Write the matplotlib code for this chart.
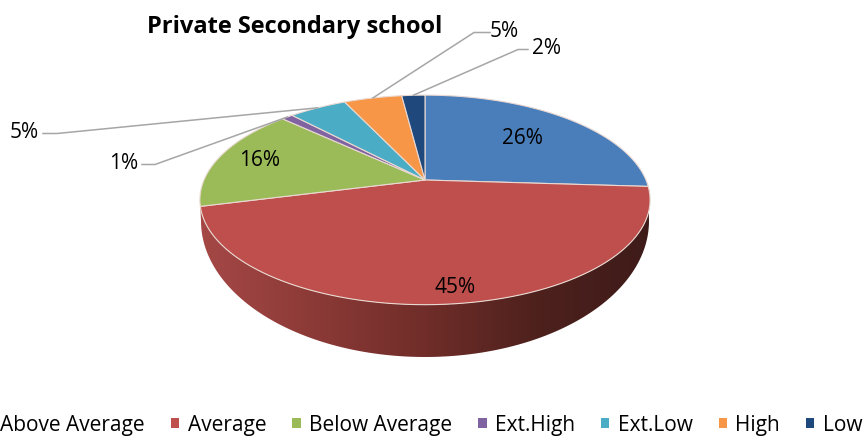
import matplotlib
matplotlib.use('Agg')
import matplotlib.pyplot as plt
import numpy as np
from matplotlib.colors import LinearSegmentedColormap
from matplotlib.patches import Patch

plt.rcParams['font.family'] = ['Open Sans', 'DejaVu Sans']

categorias = ['Above Average', 'Average', 'Below Average', 'Ext.High', 'Ext.Low', 'High', 'Low']
valores = [26, 45, 16, 1, 5, 5, 2]
colores = ['#4A7EBB', '#BE4F4C', '#9BBB59', '#8064A2', '#4BACC6', '#F79646', '#1F497D']
titulo = 'Private Secondary school'

# centre of the pie and perspective of the tilted disc, in pixels
cx, cy = 425, 181
a, b, k = 221, 101, 0.19


def proyectar(ang):
    # ang clockwise from the top, in degrees
    t = np.radians(ang)
    u, v = np.sin(t), np.cos(t)
    d = 1 + k * v
    return cx + a * u / d, cy - b * v / d


fig = plt.figure(figsize=(8.63, 4.39), dpi=100)
ax = fig.add_axes([0, 0, 1, 1])
ax.set_xlim(0, 863)
ax.set_ylim(439, 0)
ax.axis('off')

limites = np.cumsum([0] + valores) * 3.6

# side wall of the red slice, with dark gradient
ang = np.linspace(limites[1], limites[2], 120)
xr, yr = proyectar(ang)
t = np.linspace(0, np.pi, 120)
xb, yb = cx + 224 * np.cos(t), 222 + 136 * np.sin(t)
cmap = LinearSegmentedColormap.from_list('pared', ['#A54846', '#8C3A37', '#702D29', '#4E211D', '#3E1B19'])
grad = ax.imshow(np.linspace(0, 1, 256).reshape(1, -1), cmap=cmap, aspect='auto',
                 extent=(xr.min(), xr.max(), yb.max(), yr.min()), zorder=1)
pared = ax.fill(np.r_[xr, xb[::-1]], np.r_[yr, yb[::-1]], color='none', zorder=1)[0]
grad.set_clip_path(pared)
ax.set_xlim(0, 863)
ax.set_ylim(439, 0)

# top face
for i in range(len(valores)):
    ang = np.linspace(limites[i], limites[i + 1], 80)
    x, y = proyectar(ang)
    ax.fill(np.r_[cx, x], np.r_[cy, y], facecolor=colores[i], edgecolor='#EAD9D2', lw=0.8, zorder=2)

# labels
pos_dentro = {0: (522, 139), 1: (455, 288), 2: (260, 161)}
for i, (px, py) in pos_dentro.items():
    ax.text(px, py, f'{valores[i]}%', fontsize=15, ha='center', va='center', color='black', zorder=5)

pos_fuera = {3: (124, 161, 142, 155), 4: (24, 130, 43, 57), 5: (504, 29, 490, 474), 6: (546, 46, 528, 518)}
for i, (px, py, x0, x1) in pos_fuera.items():
    ax.text(px, py + 2.5, f'{valores[i]}%', fontsize=15, ha='center', va='center', color='black', zorder=5)
    xm, ym = proyectar((limites[i] + limites[i + 1]) / 2)
    ax.plot([x0, x1, xm], [py + 4.5, py + 4.5, ym], color='#A6A6A6', lw=1.1, zorder=4)

ax.text(295, 27, titulo, fontsize=17, fontweight='bold', ha='center', va='center', color='black')

handles = [Patch(facecolor=c, edgecolor='none') for c in colores]
fig.legend(handles, categorias, ncol=7, frameon=False, fontsize=15, loc='center',
           bbox_to_anchor=(423 / 863, 1 - 426 / 439), handlelength=0.4, handleheight=0.4,
           handletextpad=0.4, columnspacing=1.25, borderpad=0)

fig.savefig('out.png', dpi=100)
